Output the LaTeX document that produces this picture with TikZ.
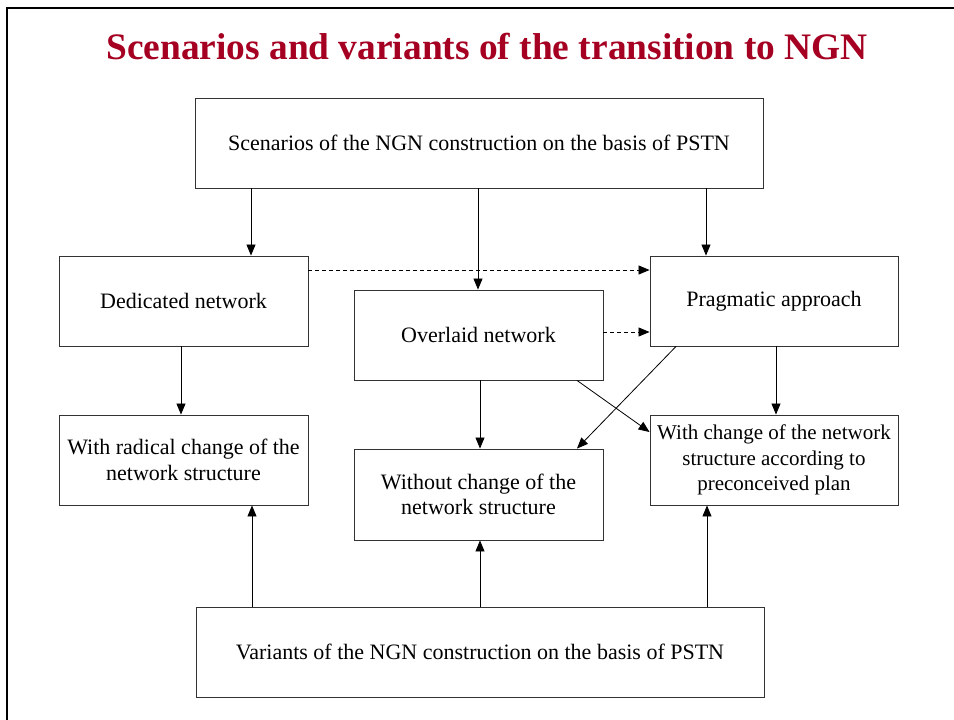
\documentclass[tikz,border=0pt]{standalone}
\usepackage{fontspec}
\setmainfont{Liberation Serif}
\usetikzlibrary{arrows.meta}
\definecolor{titlered}{HTML}{A50021}
\begin{document}
\begin{tikzpicture}[x=1pt,y=-1pt,
  box/.style={draw=black!80,line width=0.9pt,inner sep=0pt,align=center,
    font=\fontsize{22}{25.5}\selectfont},
  link/.style={-{Triangle[length=11pt,width=9pt]},line width=0.8pt},
  dlink/.style={link,dash pattern=on 4pt off 3pt}]
\useasboundingbox (0,0) rectangle (954,720);
% slide frame
\draw[line width=2.4pt] (7,730) -- (7,8) -- (964,8);
% title
\node[font=\fontsize{37.4}{42}\selectfont\bfseries,text=titlered] (title) at (487,47) {Scenarios and variants of the transition to NGN};
% boxes
\node[box,minimum width=568pt,minimum height=90pt] (top) at (479,143) {Scenarios of the NGN construction on the basis of PSTN};
\node[box,minimum width=249pt,minimum height=90pt] (ded) at (183.5,301) {Dedicated network};
\node[box,minimum width=249pt,minimum height=90pt] (ovl) at (478.5,335) {Overlaid network};
\node[box,minimum width=248pt,minimum height=90pt] (prag) at (774,301) {Pragmatic approach};
\node[box,minimum width=249pt,minimum height=90pt] (rad) at (183.5,460) {With radical change of the\\network structure};
\node[box,minimum width=249pt,minimum height=91pt] (wout) at (478.5,494.5) {Without change of the\\network structure};
\node[box,minimum width=248pt,minimum height=90pt,font=\fontsize{21}{25.5}\selectfont] (wch) at (774,460) {With change of the network\\structure according to\\preconceived plan};
\node[box,minimum width=568pt,minimum height=90pt] (bot) at (480,652) {Variants of the NGN construction on the basis of PSTN};
% scenario arrows
\draw[link] (top.south -| 251,0) -- (ded.north -| 251,0);
\draw[link] (top.south -| 478,0) -- (ovl.north -| 478,0);
\draw[link] (top.south -| 706,0) -- (prag.north -| 706,0);
\draw[dlink] (ded.east |- 0,270) -- (prag.west |- 0,270);
\draw[dlink] (ovl.east |- 0,332) -- (prag.west |- 0,332);
\draw[link] (ded.south -| 181,0) -- (rad.north -| 181,0);
\draw[link] (ovl.south -| 480,0) -- (wout.north -| 480,0);
\draw[link] (prag.south -| 776,0) -- (wch.north -| 776,0);
\draw[link] (prag.south -| 676,0) -- (wout.north -| 577,0);
\draw[link] (ovl.south -| 577,0) -- (wch.west |- 0,432);
% variant arrows
\draw[link] (bot.north -| 252,0) -- (rad.south -| 252,0);
\draw[link] (bot.north -| 480,0) -- (wout.south -| 480,0);
\draw[link] (bot.north -| 707,0) -- (wch.south -| 707,0);
\end{tikzpicture}
\end{document}
